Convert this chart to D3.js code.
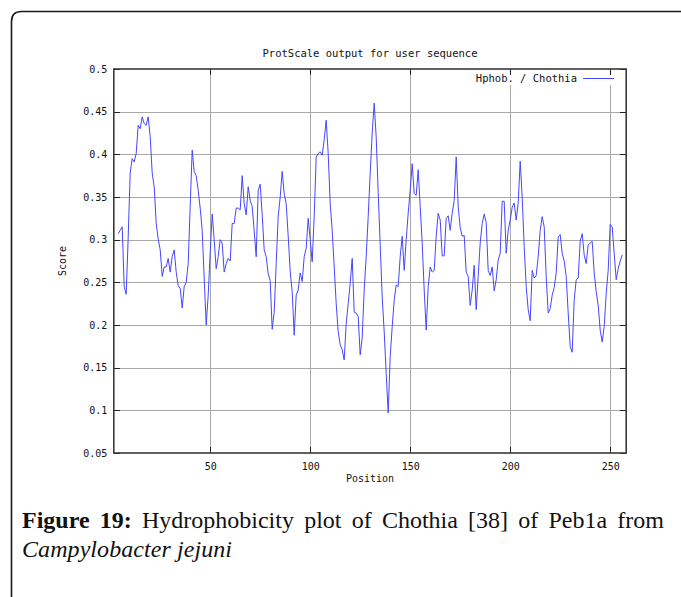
<!DOCTYPE html>
<html>
<head>
<meta charset="utf-8">
<script src="https://cdn.jsdelivr.net/npm/d3@7"></script>
<style>
  html, body { margin: 0; padding: 0; background: #fff; }
  svg { display: block; }
</style>
</head>
<body>
<svg id="chart" width="681" height="597"></svg>
<script>
// ---- data ----
const chartTitle = "ProtScale output for user sequence";
const seriesName = "Hphob. / Chothia";
const xLabel = "Position";
const yLabel = "Score";
const firstPosition = 4;
const scores = [
  0.307, 0.311, 0.315, 0.245, 0.236, 0.303, 0.378, 0.395, 0.391, 0.401, // 4-13
  0.434, 0.430, 0.444, 0.436, 0.434, 0.444, 0.421, 0.378, 0.362, 0.319, // 14-23
  0.301, 0.288, 0.257, 0.268, 0.268, 0.278, 0.262, 0.280, 0.288, 0.262, // 24-33
  0.246, 0.243, 0.220, 0.245, 0.250, 0.272, 0.339, 0.405, 0.380, 0.375, // 34-43
  0.358, 0.337, 0.311, 0.255, 0.200, 0.235, 0.285, 0.330, 0.300, 0.266, // 44-53
  0.280, 0.300, 0.296, 0.262, 0.272, 0.278, 0.275, 0.319, 0.319, 0.337, // 54-63
  0.337, 0.335, 0.375, 0.342, 0.329, 0.362, 0.346, 0.339, 0.310, 0.280, // 64-73
  0.358, 0.365, 0.329, 0.288, 0.280, 0.260, 0.252, 0.195, 0.215, 0.272, // 74-83
  0.327, 0.350, 0.380, 0.354, 0.342, 0.304, 0.263, 0.239, 0.188, 0.235, // 84-93
  0.241, 0.261, 0.251, 0.280, 0.290, 0.325, 0.300, 0.274, 0.327, 0.397, // 94-103
  0.401, 0.403, 0.399, 0.417, 0.440, 0.401, 0.342, 0.311, 0.268, 0.225, // 104-113
  0.192, 0.177, 0.171, 0.159, 0.202, 0.225, 0.249, 0.278, 0.215, 0.214, // 114-123
  0.210, 0.165, 0.185, 0.241, 0.280, 0.327, 0.378, 0.425, 0.460, 0.420, // 124-133
  0.355, 0.294, 0.233, 0.192, 0.143, 0.097, 0.163, 0.198, 0.229, 0.247, // 134-143
  0.245, 0.280, 0.304, 0.264, 0.300, 0.331, 0.358, 0.389, 0.354, 0.352, // 144-153
  0.382, 0.339, 0.296, 0.241, 0.194, 0.245, 0.268, 0.262, 0.264, 0.304, // 154-163
  0.331, 0.323, 0.281, 0.281, 0.325, 0.328, 0.311, 0.331, 0.346, 0.397, // 164-173
  0.339, 0.314, 0.304, 0.305, 0.262, 0.257, 0.223, 0.241, 0.270, 0.218, // 174-183
  0.257, 0.296, 0.319, 0.330, 0.320, 0.264, 0.258, 0.268, 0.240, 0.253, // 184-193
  0.276, 0.284, 0.345, 0.345, 0.284, 0.311, 0.323, 0.338, 0.343, 0.323, // 194-203
  0.343, 0.392, 0.350, 0.292, 0.245, 0.218, 0.205, 0.264, 0.255, 0.258, // 204-213
  0.280, 0.311, 0.327, 0.315, 0.257, 0.214, 0.219, 0.235, 0.244, 0.261, // 214-223
  0.303, 0.306, 0.284, 0.275, 0.257, 0.214, 0.175, 0.168, 0.229, 0.253, // 224-233
  0.255, 0.298, 0.307, 0.282, 0.272, 0.294, 0.296, 0.298, 0.261, 0.239, // 234-243
  0.223, 0.194, 0.180, 0.198, 0.237, 0.264, 0.318, 0.315, 0.284, 0.253, // 244-253
  0.266, 0.275, 0.282                                                     // 254-256
];
const xTickValues = [50, 100, 150, 200, 250];
const xTickLabels = ["50", "100", "150", "200", "250"];
const yTickValues = [0.05, 0.1, 0.15, 0.2, 0.25, 0.3, 0.35, 0.4, 0.45, 0.5];
const yTickLabels = ["0.05", "0.1", "0.15", "0.2", "0.25", "0.3", "0.35", "0.4", "0.45", "0.5"];
const captionBold = ["Figure", "19:"];
const captionWords = ["Hydrophobicity", "plot", "of", "Chothia", "[38]", "of", "Peb1a", "from"];
const captionLine2 = "Campylobacter jejuni";

// ---- layout ----
const svg = d3.select("#chart");
const plot = { left: 113.8, right: 626.2, top: 69, bottom: 453 };
const mono = "'DejaVu Sans Mono', 'Liberation Mono', monospace";
const serif = "'Liberation Serif', 'DejaVu Serif', serif";

const x = d3.scaleLinear().domain([1.8, 258]).range([plot.left, plot.right]);
const y = d3.scaleLinear().domain([0.05, 0.5]).range([plot.bottom, plot.top]);

// outer frame (rounded top-left corner)
const r = 10;
svg.append("path")
  .attr("d", `M11.5,600 L11.5,${11.5 + r} Q11.5,11.5 ${11.5 + r},11.5 L685,11.5`)
  .attr("fill", "none").attr("stroke", "#1a1a1a").attr("stroke-width", 1.6);

// grid
const gridColor = "#a8a8a8";
svg.append("g")
  .attr("transform", `translate(0,${plot.bottom})`)
  .call(d3.axisBottom(x).tickValues(xTickValues).tickSize(-(plot.bottom - plot.top)).tickFormat(""))
  .call(g => g.select(".domain").remove())
  .call(g => g.selectAll("line").attr("stroke", gridColor).attr("stroke-width", 1).attr("shape-rendering", "crispEdges"));
svg.append("g")
  .attr("transform", `translate(${plot.left},0)`)
  .call(d3.axisLeft(y).tickValues(yTickValues.slice(1, -1)).tickSize(-(plot.right - plot.left)).tickFormat(""))
  .call(g => g.select(".domain").remove())
  .call(g => g.selectAll("line").attr("stroke", gridColor).attr("stroke-width", 1).attr("shape-rendering", "crispEdges"));

// legend background clears the grid behind the key
svg.append("rect")
  .attr("x", 468).attr("y", 72).attr("width", 152).attr("height", 13)
  .attr("fill", "#fff");

// data line
const line = d3.line()
  .x((d, i) => x(firstPosition + i))
  .y(d => y(d));
svg.append("path")
  .datum(scores)
  .attr("d", line)
  .attr("fill", "none")
  .attr("stroke", "#4646ff")
  .attr("stroke-width", 1);

// tick marks on all four sides (inward)
const tickColor = "#222";
const tl = 6;
svg.append("g")
  .attr("transform", `translate(0,${plot.bottom})`)
  .call(d3.axisTop(x).tickValues(xTickValues).tickSize(tl).tickFormat(""))
  .call(g => g.select(".domain").remove())
  .call(g => g.selectAll("line").attr("stroke", tickColor).attr("shape-rendering", "crispEdges"));
svg.append("g")
  .attr("transform", `translate(0,${plot.top})`)
  .call(d3.axisBottom(x).tickValues(xTickValues).tickSize(tl).tickFormat(""))
  .call(g => g.select(".domain").remove())
  .call(g => g.selectAll("line").attr("stroke", tickColor).attr("shape-rendering", "crispEdges"));
svg.append("g")
  .attr("transform", `translate(${plot.left},0)`)
  .call(d3.axisRight(y).tickValues(yTickValues).tickSize(tl).tickFormat(""))
  .call(g => g.select(".domain").remove())
  .call(g => g.selectAll("line").attr("stroke", tickColor).attr("shape-rendering", "crispEdges"));
svg.append("g")
  .attr("transform", `translate(${plot.right},0)`)
  .call(d3.axisLeft(y).tickValues(yTickValues).tickSize(tl).tickFormat(""))
  .call(g => g.select(".domain").remove())
  .call(g => g.selectAll("line").attr("stroke", tickColor).attr("shape-rendering", "crispEdges"));

// border
svg.append("rect")
  .attr("x", plot.left).attr("y", plot.top)
  .attr("width", plot.right - plot.left).attr("height", plot.bottom - plot.top)
  .attr("fill", "none").attr("stroke", "#3a3a3a").attr("stroke-width", 1.6);

// tick labels
svg.append("g")
  .attr("transform", `translate(0,${plot.bottom + 3})`)
  .call(d3.axisBottom(x).tickValues(xTickValues).tickSize(0).tickPadding(7)
    .tickFormat((d, i) => xTickLabels[i]))
  .call(g => g.select(".domain").remove())
  .call(g => g.selectAll("text").attr("font-family", mono).attr("font-size", "10px").attr("fill", "#111"));
svg.append("g")
  .attr("transform", `translate(${plot.left - 6.5},0)`)
  .call(d3.axisLeft(y).tickValues(yTickValues).tickSize(0).tickPadding(0)
    .tickFormat((d, i) => yTickLabels[i]))
  .call(g => g.select(".domain").remove())
  .call(g => g.selectAll("text").attr("font-family", mono).attr("font-size", "10px").attr("fill", "#111"));

// titles
svg.append("text")
  .attr("x", (plot.left + plot.right) / 2).attr("y", 57)
  .attr("text-anchor", "middle")
  .attr("font-family", mono).attr("font-size", "10.5px").attr("fill", "#111")
  .text(chartTitle);
svg.append("text")
  .attr("x", (plot.left + plot.right) / 2).attr("y", 482)
  .attr("text-anchor", "middle")
  .attr("font-family", mono).attr("font-size", "10px").attr("fill", "#111")
  .text(xLabel);
svg.append("text")
  .attr("transform", `translate(66,${(plot.top + plot.bottom) / 2}) rotate(-90)`)
  .attr("text-anchor", "middle")
  .attr("font-family", mono).attr("font-size", "10px").attr("fill", "#111")
  .text(yLabel);

// legend
svg.append("text")
  .attr("x", 577).attr("y", 82)
  .attr("text-anchor", "end")
  .attr("font-family", mono).attr("font-size", "10.5px").attr("fill", "#111")
  .text(seriesName);
svg.append("line")
  .attr("x1", 583).attr("x2", 614).attr("y1", 78.5).attr("y2", 78.5)
  .attr("stroke", "#4646ff").attr("stroke-width", 1);

// caption line 1 (justified)
const capLeft = 22, capRight = 664, capY1 = 528, capY2 = 557;
const capSize = 24;
const words = captionBold.map(w => ({ w, bold: true })).concat(captionWords.map(w => ({ w, bold: false })));
const capG = svg.append("g");
const nodes = words.map(o => capG.append("text")
  .attr("y", capY1)
  .attr("font-family", serif).attr("font-size", capSize + "px")
  .attr("font-weight", o.bold ? "bold" : "normal")
  .attr("fill", "#111")
  .text(o.w));
const widths = nodes.map(n => n.node().getComputedTextLength());
const total = d3.sum(widths);
const gap = (capRight - capLeft - total) / (nodes.length - 1);
let cx = capLeft;
nodes.forEach((n, i) => { n.attr("x", cx); cx += widths[i] + gap; });

svg.append("text")
  .attr("x", capLeft).attr("y", capY2)
  .attr("font-family", serif).attr("font-size", capSize + "px")
  .attr("font-style", "italic").attr("fill", "#111")
  .attr("textLength", 210).attr("lengthAdjust", "spacing")
  .text(captionLine2);
</script>
</body>
</html>
